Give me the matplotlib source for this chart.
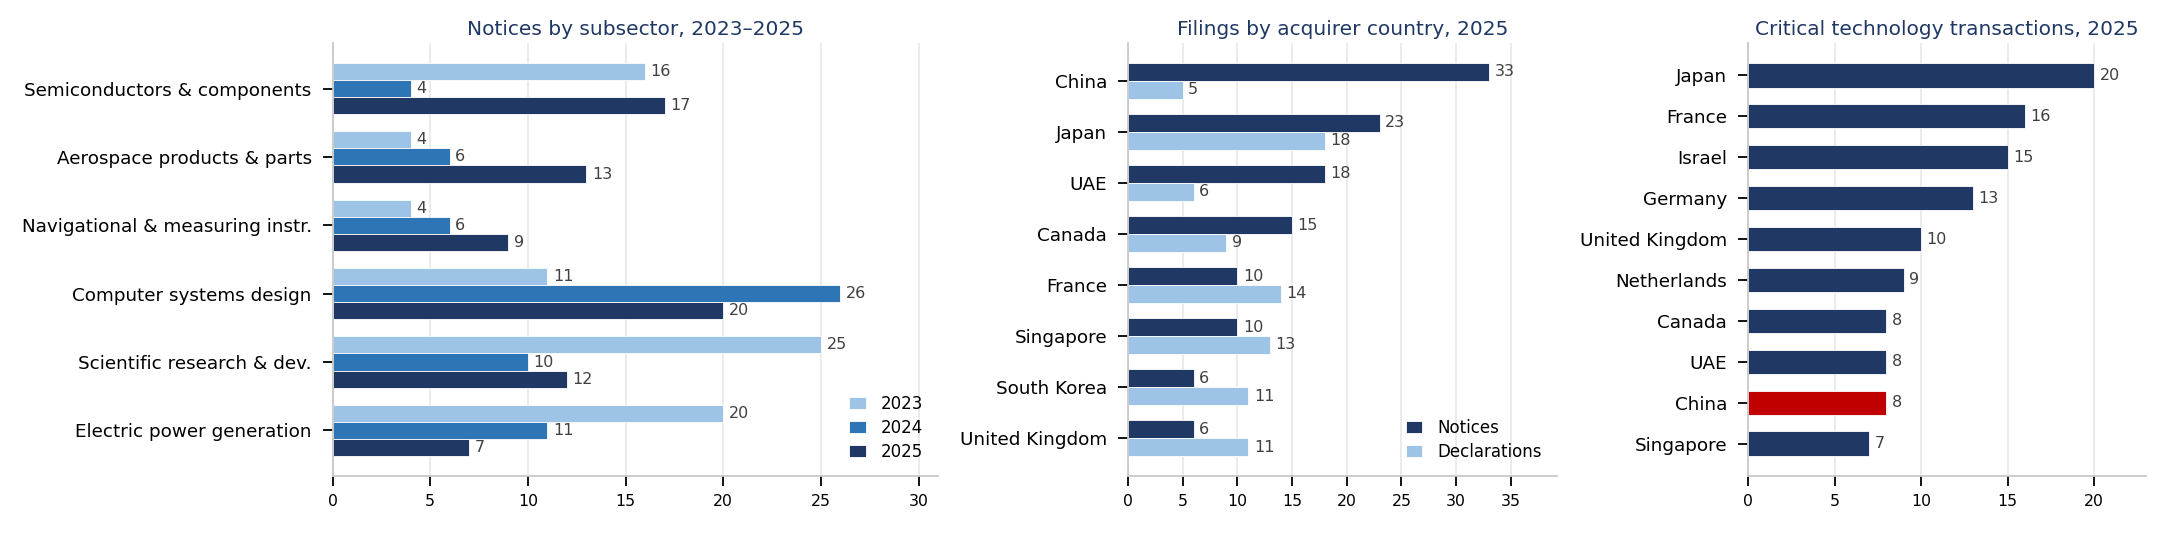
import matplotlib
matplotlib.use("Agg")
import matplotlib.pyplot as plt
import numpy as np

# panel 1: notices by subsector
subsectors = [
    "Semiconductors & components",
    "Aerospace products & parts",
    "Navigational & measuring instr.",
    "Computer systems design",
    "Scientific research & dev.",
    "Electric power generation",
]
notices_2023 = [16, 4, 4, 11, 25, 20]
notices_2024 = [4, 6, 6, 26, 10, 11]
notices_2025 = [17, 13, 9, 20, 12, 7]
years = ["2023", "2024", "2025"]

# panel 2: filings by acquirer country
countries = ["China", "Japan", "UAE", "Canada", "France", "Singapore",
             "South Korea", "United Kingdom"]
country_notices = [33, 23, 18, 15, 10, 10, 6, 6]
country_declarations = [5, 18, 6, 9, 14, 13, 11, 11]

# panel 3: critical technology transactions
crit_countries = ["Japan", "France", "Israel", "Germany", "United Kingdom",
                  "Netherlands", "Canada", "UAE", "China", "Singapore"]
crit_counts = [20, 16, 15, 13, 10, 9, 8, 8, 8, 7]
highlight = "China"

LIGHT = "#9dc3e6"
MID = "#2e75b6"
NAVY = "#1f3864"
RED = "#c00000"
TITLE_C = "#1f3864"
LABEL_C = "#404040"
SPINE_C = "#c8c8c8"
GRID_C = "#e6e6e6"


def style_axes(ax, title, xmax):
    ax.set_title(title, color=TITLE_C, fontsize=14.5, pad=6)
    ax.set_xlim(0, xmax)
    ax.invert_yaxis()
    for s in ["top", "right"]:
        ax.spines[s].set_visible(False)
    for s in ["left", "bottom"]:
        ax.spines[s].set_color(SPINE_C)
        ax.spines[s].set_linewidth(1.3)
    ax.grid(axis="x", color=GRID_C, linewidth=1.1)
    ax.set_axisbelow(True)
    ax.tick_params(axis="y", labelsize=13.25, length=7, width=1.3, pad=8)
    ax.tick_params(axis="x", labelsize=11.3, length=7, width=1.3, pad=6)


def add_labels(ax, bars):
    ax.bar_label(bars, padding=4, fontsize=11.5, color=LABEL_C)


fig = plt.figure(figsize=(21.62, 5.37), dpi=100)
bottom, height = 0.1142, 0.8052
ax1 = fig.add_axes([0.1538, bottom, 0.2801, height])
ax2 = fig.add_axes([0.5217, bottom, 0.1984, height])
ax3 = fig.add_axes([0.8085, bottom, 0.1841, height])

# panel 1
y = np.arange(len(subsectors))
h = 0.25
for off, vals, col, lab in zip([-h, 0, h],
                               [notices_2023, notices_2024, notices_2025],
                               [LIGHT, MID, NAVY], years):
    b = ax1.barh(y + off, vals, height=h, color=col, edgecolor="white",
                 linewidth=0.6, label=lab)
    add_labels(ax1, b)
ax1.set_yticks(y)
ax1.set_yticklabels(subsectors)
style_axes(ax1, "Notices by subsector, 2023–2025", 31)
ax1.legend(loc="lower right", frameon=False, fontsize=12, handlelength=1.0,
           handleheight=0.75, handletextpad=0.9, labelspacing=0.35)

# panel 2
y2 = np.arange(len(countries))
h2 = 0.35
b = ax2.barh(y2 - h2 / 2, country_notices, height=h2, color=NAVY,
             edgecolor="white", linewidth=0.6, label="Notices")
add_labels(ax2, b)
b = ax2.barh(y2 + h2 / 2, country_declarations, height=h2, color=LIGHT,
             edgecolor="white", linewidth=0.6, label="Declarations")
add_labels(ax2, b)
ax2.set_yticks(y2)
ax2.set_yticklabels(countries)
style_axes(ax2, "Filings by acquirer country, 2025", 39.2)
ax2.set_xticks(np.arange(0, 36, 5))
ax2.legend(loc="lower right", frameon=False, fontsize=12, handlelength=1.0,
           handleheight=0.75, handletextpad=0.9, labelspacing=0.35)

# panel 3
y3 = np.arange(len(crit_countries))
colors3 = [RED if c == highlight else NAVY for c in crit_countries]
b = ax3.barh(y3, crit_counts, height=0.6, color=colors3, edgecolor="white",
             linewidth=0.6)
add_labels(ax3, b)
ax3.set_yticks(y3)
ax3.set_yticklabels(crit_countries)
style_axes(ax3, "Critical technology transactions, 2025", 23)
ax3.set_xticks(np.arange(0, 21, 5))

fig.savefig("out.png", dpi=100)
